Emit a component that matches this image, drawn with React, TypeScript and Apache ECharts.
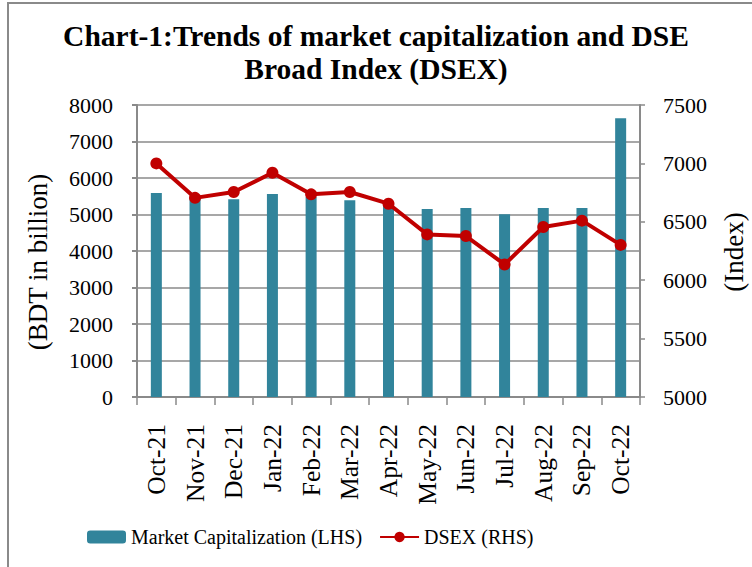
import React, { useEffect, useRef } from "react";
import * as echarts from "echarts";

const categories = ["Oct-21", "Nov-21", "Dec-21", "Jan-22", "Feb-22", "Mar-22", "Apr-22", "May-22", "Jun-22", "Jul-22", "Aug-22", "Sep-22", "Oct-22"];
const marketCap = [5590, 5450, 5420, 5560, 5480, 5390, 5250, 5150, 5180, 5010, 5180, 5180, 7640];
const dsex = [7000, 6705, 6755, 6920, 6735, 6755, 6655, 6392, 6378, 6135, 6455, 6510, 6302];

const FONT = "'Liberation Serif', 'Times New Roman', serif";

export default function App() {
  const ref = useRef<HTMLDivElement>(null);
  useEffect(() => {
    if (!ref.current) return;
    const chart = echarts.init(ref.current, undefined, { renderer: "svg" });
    chart.setOption({
      animation: false,
      backgroundColor: "#ffffff",
      textStyle: { fontFamily: FONT, color: "#000" },
      title: {
        text: "Chart-1:Trends of market capitalization and DSE\nBroad Index (DSEX)",
        left: "center",
        top: 14,
        textStyle: { fontFamily: FONT, fontWeight: "bold", fontSize: 29.5, lineHeight: 33, color: "#000" },
      },
      graphic: [
        {
          type: "rect",
          z: -1,
          shape: { x: 8, y: 3, width: 800, height: 600 },
          style: { fill: "none", stroke: "#8a8a8a", lineWidth: 2 },
        },
        {
          type: "text",
          x: 38,
          y: 262,
          rotation: Math.PI / 2,
          style: { text: "(BDT in billion)", font: `27px ${FONT}`, fill: "#000", align: "center", verticalAlign: "middle" },
        },
        {
          type: "text",
          x: 734,
          y: 252,
          rotation: Math.PI / 2,
          style: { text: "(Index)", font: `27px ${FONT}`, fill: "#000", align: "center", verticalAlign: "middle" },
        },
      ],
      legend: {
        left: 82,
        top: 522,
        itemWidth: 39,
        itemHeight: 13,
        itemGap: 17,
        textStyle: { fontFamily: FONT, fontSize: 20, color: "#000" },
        data: ["Market Capitalization (LHS)", "DSEX (RHS)"],
      },
      grid: { left: 137, right: 112, top: 105, bottom: 170 },
      xAxis: {
        type: "category",
        data: categories,
        boundaryGap: true,
        axisLine: { lineStyle: { color: "#8a8a8a", width: 2 } },
        axisTick: { show: true, length: 8, lineStyle: { color: "#8a8a8a", width: 1.5 } },
        axisLabel: { rotate: 90, fontSize: 25.5, margin: 27, color: "#000", fontFamily: FONT },
      },
      yAxis: [
        {
          type: "value",
          min: 0,
          max: 8000,
          interval: 1000,
          axisLine: { show: true, lineStyle: { color: "#8a8a8a", width: 2 } },
          axisTick: { show: true, length: 5, lineStyle: { color: "#8a8a8a", width: 2 } },
          axisLabel: { fontSize: 22, margin: 24, color: "#000", fontFamily: FONT, formatter: (v: number) => String(v) },
          splitLine: { show: true, lineStyle: { color: "#8a8a8a", width: 1.5 } },
        },
        {
          type: "value",
          min: 5000,
          max: 7500,
          interval: 500,
          axisLine: { show: true, lineStyle: { color: "#8a8a8a", width: 2 } },
          axisTick: { show: true, length: 5, lineStyle: { color: "#8a8a8a", width: 1.5 } },
          axisLabel: { fontSize: 22, margin: 23, color: "#000", fontFamily: FONT, formatter: (v: number) => String(v) },
          splitLine: { show: false },
        },
      ],
      series: [
        {
          name: "Market Capitalization (LHS)",
          type: "bar",
          data: marketCap,
          yAxisIndex: 0,
          barWidth: 11,
          itemStyle: { color: "#31849B" },
        },
        {
          name: "DSEX (RHS)",
          type: "line",
          data: dsex,
          yAxisIndex: 1,
          symbol: "circle",
          symbolSize: 12,
          lineStyle: { color: "#C00000", width: 4 },
          itemStyle: { color: "#C00000" },
        },
      ],
    });
    return () => chart.dispose();
  }, []);
  return <div ref={ref} style={{ position: "fixed", left: 0, top: 0, width: 752, height: 567 }} />;
}
